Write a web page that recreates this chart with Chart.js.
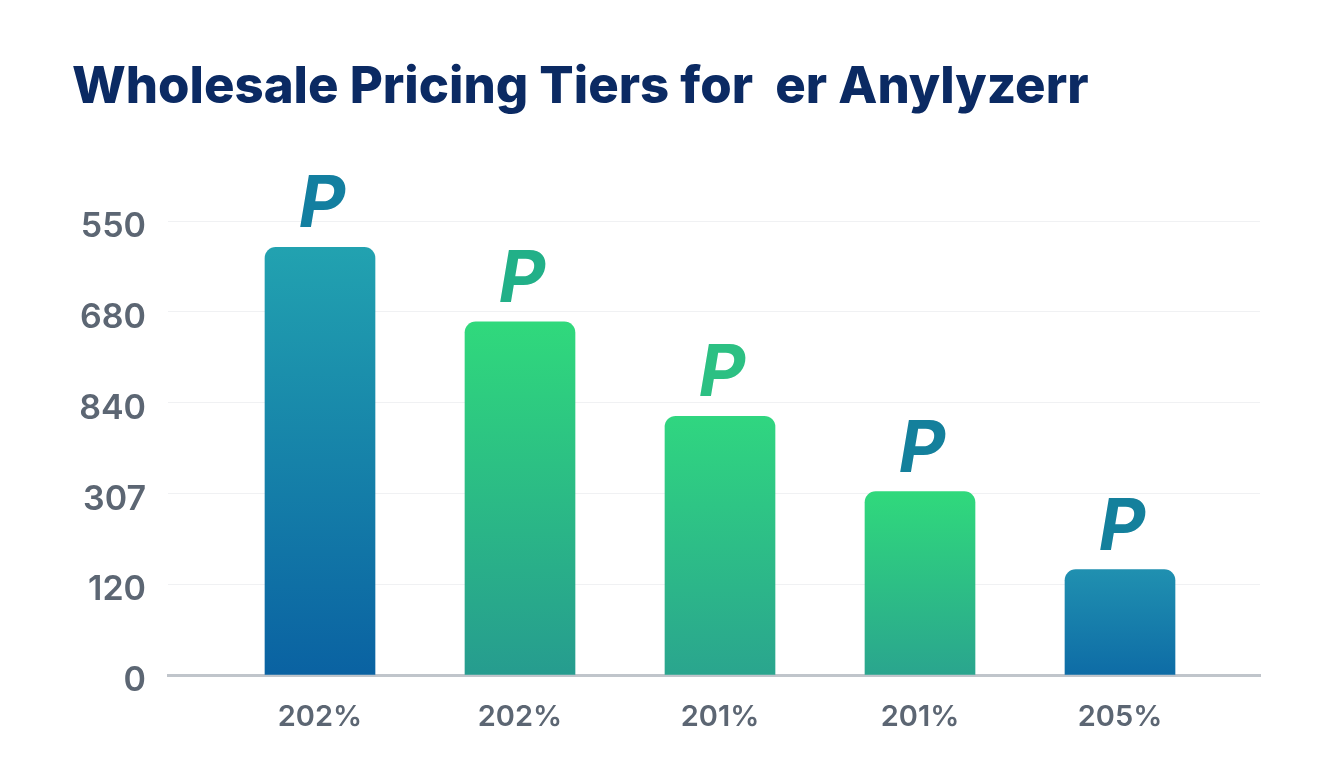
<!DOCTYPE html>
<html>
<head>
<meta charset="utf-8">
<title>Wholesale Pricing Tiers</title>
<script src="https://cdn.jsdelivr.net/npm/chart.js@4"></script>
<style>
  html, body { margin: 0; padding: 0; background: #fff; }
  canvas { display: block; }
</style>
</head>
<body>
<canvas id="tiers" width="1344" height="768"></canvas>
<script>
var chartTitle = "Wholesale Pricing Tiers for  er Anylyzerr";
var categories = ["202%", "202%", "201%", "201%", "205%"];
// the axis labels are not in numeric order, so the bars are read in gridline steps
var tickLabels = ["0", "120", "307", "840", "680", "550"];
var barValues = [4.71, 3.89, 2.85, 2.02, 1.16];
var barMarks = ["P", "P", "P", "P", "P"];

var gradientTop = ["#22a2b0", "#30d97c", "#30d680", "#30d97c", "#2090b0"];
var gradientBottom = ["#0a62a2", "#269c8f", "#2aa58e", "#2aa58e", "#0e6ca6"];
var markColors = ["#137fa0", "#22b088", "#2cc083", "#14809c", "#14809c"];

var barMarkPlugin = {
    id: 'barMarks',
    afterDatasetsDraw: function (chart) {
        var ctx = chart.ctx;
        var bars = chart.getDatasetMeta(0).data;
        ctx.save();
        ctx.font = 'italic 700 72px Inter';
        ctx.textAlign = 'center';
        ctx.textBaseline = 'alphabetic';
        bars.forEach(function (bar, i) {
            ctx.fillStyle = markColors[i];
            ctx.fillText(barMarks[i], bar.x + 2, bar.y - 20);
        });
        ctx.restore();
    }
};

var ctx = document.getElementById("tiers").getContext('2d');
var chart = new Chart(ctx, {
    type: 'bar',
    data: {
        datasets: [{
            data: barValues.map(function (v, i) { return { x: i, y: v }; }),
            barThickness: 110,
            borderRadius: { topLeft: 11, topRight: 11, bottomLeft: 0, bottomRight: 0 },
            borderSkipped: false,
            backgroundColor: function (context) {
                var c = context.chart;
                var i = context.dataIndex;
                if (!c.chartArea || i === undefined) {
                    return gradientTop[0];
                }
                var y = c.scales.y;
                var g = c.ctx.createLinearGradient(0, y.getPixelForValue(barValues[i]), 0, y.getPixelForValue(0));
                g.addColorStop(0, gradientTop[i]);
                g.addColorStop(1, gradientBottom[i]);
                return g;
            }
        }]
    },
    plugins: [barMarkPlugin],
    options: {
        responsive: false,
        animation: false,
        layout: { padding: { left: 72, right: 84, top: 57, bottom: 0 } },
        plugins: {
            legend: { display: false },
            tooltip: { enabled: false },
            title: {
                display: true,
                text: chartTitle,
                align: 'start',
                color: '#0b2a63',
                font: { family: 'Inter', size: 50.85, weight: '800', lineHeight: 1.2 },
                padding: { top: 0, bottom: 103 }
            }
        },
        scales: {
            x: {
                type: 'linear',
                offset: false,
                min: -0.76,
                max: 4.7,
                afterFit: function (scale) { scale.height = 93; },
                afterBuildTicks: function (scale) {
                    scale.ticks = categories.map(function (c, i) { return { value: i }; });
                },
                grid: { display: false },
                border: { color: '#c0c5cb', width: 3 },
                ticks: {
                    autoSkip: false,
                    maxRotation: 0,
                    padding: 17,
                    color: '#5c6673',
                    font: { family: 'Inter', size: 29, weight: '600' },
                    callback: function (value) { return categories[value]; }
                }
            },
            y: {
                min: 0,
                max: 5,
                afterFit: function (scale) { scale.width = 96; },
                grid: { color: '#f0f1f3', lineWidth: 1, drawTicks: false },
                border: { display: false },
                ticks: {
                    stepSize: 1,
                    padding: 22,
                    labelOffset: 6,
                    color: '#5c6673',
                    font: { family: 'Inter', size: 34, weight: '600' },
                    callback: function (value) { return tickLabels[value]; }
                }
            }
        }
    }
});
</script>
</body>
</html>
